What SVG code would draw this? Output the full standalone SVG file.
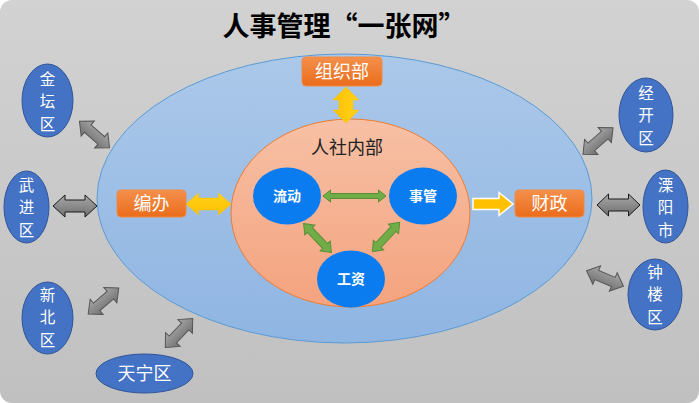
<svg xmlns="http://www.w3.org/2000/svg" width="699" height="403" viewBox="0 0 699 403">
<defs>
<linearGradient id="bg" x1="0" y1="0" x2="0" y2="1"><stop offset="0" stop-color="#d2d2d2"/><stop offset="1" stop-color="#c0c0c0"/></linearGradient>
<linearGradient id="blueBig" x1="0" y1="0" x2="0" y2="1"><stop offset="0" stop-color="#abc8e9"/><stop offset="1" stop-color="#8fb5e2"/></linearGradient>
<linearGradient id="salmon" x1="0" y1="0" x2="0" y2="1"><stop offset="0" stop-color="#f7c0a5"/><stop offset="1" stop-color="#f4a37e"/></linearGradient>
<linearGradient id="orange" x1="0" y1="0" x2="0" y2="1"><stop offset="0" stop-color="#f4904c"/><stop offset="1" stop-color="#ea6c1a"/></linearGradient>
<linearGradient id="grey" x1="0" y1="0" x2="0" y2="1"><stop offset="0" stop-color="#a8a8a8"/><stop offset="1" stop-color="#6f6f6f"/></linearGradient>
<linearGradient id="yellow" x1="0" y1="0" x2="0" y2="1"><stop offset="0" stop-color="#ffd21a"/><stop offset="1" stop-color="#ffc000"/></linearGradient>
</defs>
<style>
.dist{fill:#4472c4;stroke:#2f5597;stroke-width:1}
.dt{font-family:"Noto Sans CJK SC","Noto Sans",sans-serif;font-size:18px;fill:#ffffff;text-anchor:middle}
.vt{font-family:"Noto Sans CJK SC","Noto Sans",sans-serif;font-size:15.5px;fill:#ffffff;text-anchor:middle}
.box{fill:url(#orange);stroke:#f08a45;stroke-width:1}
.bt{font-family:"Noto Sans CJK SC","Noto Sans",sans-serif;font-size:18px;fill:#ffffff;text-anchor:middle}
.core{fill:#0a7cf0}
.ct{font-family:"Noto Sans CJK SC","Noto Sans",sans-serif;font-size:14px;font-weight:700;fill:#ffffff;text-anchor:middle}
.ga{fill:url(#grey);stroke:#555555;stroke-width:1}
.gk{fill:url(#grey);stroke:#1a1a1a;stroke-width:1}
.gr{fill:#70ad47;stroke:#5a8f38;stroke-width:1}
.ye{fill:url(#yellow);stroke:#ffc000;stroke-width:0.5}
</style>
<rect x="0" y="0" width="699" height="403" rx="12" fill="url(#bg)"/>
<text x="344" y="36" font-family="'Noto Sans CJK SC','Noto Sans',sans-serif" font-size="27" font-weight="700" fill="#000000" text-anchor="middle">人事管理“一张网”</text>

<g id="outer">
<ellipse cx="344.5" cy="198.5" rx="247.5" ry="144.5" fill="url(#blueBig)" stroke="#5b9bd5" stroke-width="1"/>
</g>
<g id="inner">
<ellipse cx="350.5" cy="213" rx="119.5" ry="94" fill="url(#salmon)" stroke="#ed7d31" stroke-width="1"/>
<text x="347" y="154" font-family="'Noto Sans CJK SC','Noto Sans',sans-serif" font-size="18" fill="#222222" text-anchor="middle">人社内部</text>
</g>

<g id="connectors">
<path class="ga" transform="translate(94.5,134.5) rotate(41.3)" d="M-20,0 L-9,-10 L-9,-5 L9,-5 L9,-10 L20,0 L9,10 L9,5 L-9,5 L-9,10 Z"/>
<path class="gk" transform="translate(75,206)" d="M-22,0 L-10,-11 L-10,-6 L10,-6 L10,-11 L22,0 L10,11 L10,6 L-10,6 L-10,11 Z"/>
<path class="ga" transform="translate(103.5,301) rotate(-40.3)" d="M-20,0 L-9,-10 L-9,-5 L9,-5 L9,-10 L20,0 L9,10 L9,5 L-9,5 L-9,10 Z"/>
<path class="ga" transform="translate(179,333) rotate(-46.8)" d="M-20,0 L-9,-10 L-9,-5 L9,-5 L9,-10 L20,0 L9,10 L9,5 L-9,5 L-9,10 Z"/>
<path class="ga" transform="translate(598,141) rotate(-41.2)" d="M-20,0 L-9,-10 L-9,-5 L9,-5 L9,-10 L20,0 L9,10 L9,5 L-9,5 L-9,10 Z"/>
<path class="gk" transform="translate(618.5,205)" d="M-21.5,0 L-10,-11 L-10,-6 L10,-6 L10,-11 L21.5,0 L10,11 L10,6 L-10,6 L-10,11 Z"/>
<path class="ga" transform="translate(605,278.5) rotate(23)" d="M-20,0 L-9,-10 L-9,-5 L9,-5 L9,-10 L20,0 L9,10 L9,5 L-9,5 L-9,10 Z"/>
<path class="ye" transform="translate(346,105) rotate(90)" d="M-18,0 L-5,-13 L-5,-7 L5,-7 L5,-13 L18,0 L5,13 L5,7 L-5,7 L-5,13 Z"/>
<path class="ye" transform="translate(208.5,204)" d="M-22.5,0 L-10,-11 L-10,-6 L10,-6 L10,-11 L22.5,0 L10,11 L10,6 L-10,6 L-10,11 Z"/>
<path fill="#ffc000" stroke="#ffffff" stroke-width="1.5" d="M473,198.5 L499,198.5 L499,192.5 L513,204 L499,215.5 L499,209.5 L473,209.5 Z"/>
<path class="gr" transform="translate(354.5,196)" d="M-31.5,0 L-24,-6 L-24,-2.5 L24,-2.5 L24,-6 L31.5,0 L24,6 L24,2.5 L-24,2.5 L-24,6 Z"/>
<path class="gr" transform="translate(317.5,238) rotate(46)" d="M-20,0 L-11,-7 L-11,-3.5 L11,-3.5 L11,-7 L20,0 L11,7 L11,3.5 L-11,3.5 L-11,7 Z"/>
<path class="gr" transform="translate(386,237) rotate(133)" d="M-20,0 L-11,-7 L-11,-3.5 L11,-3.5 L11,-7 L20,0 L11,7 L11,3.5 L-11,3.5 L-11,7 Z"/>
</g>

<g id="zuzhibu"><rect class="box" x="302" y="57" width="80" height="29" rx="4"/><text class="bt" x="342" y="78">组织部</text></g>
<g id="bianban"><rect class="box" x="117" y="190" width="69" height="27" rx="4"/><text class="bt" x="151.5" y="210">编办</text></g>
<g id="caizheng"><rect class="box" x="515" y="190" width="69" height="27" rx="4"/><text class="bt" x="549.5" y="210">财政</text></g>

<g id="liudong"><ellipse class="core" cx="287" cy="196" rx="34" ry="28.5"/><text class="ct" x="287" y="201">流动</text></g>
<g id="shiguan"><ellipse class="core" cx="423" cy="196" rx="34" ry="28.5"/><text class="ct" x="423" y="201">事管</text></g>
<g id="gongzi"><ellipse class="core" cx="351" cy="279" rx="34" ry="28.5"/><text class="ct" x="351" y="284">工资</text></g>

<g id="jintan"><ellipse class="dist" cx="47.5" cy="100.5" rx="25.5" ry="36.5"/><text class="vt" x="47.5" y="84.5">金</text><text class="vt" x="47.5" y="107">坛</text><text class="vt" x="47.5" y="129.5">区</text></g>
<g id="wujin"><ellipse class="dist" cx="26.5" cy="207" rx="22.5" ry="36"/><text class="vt" x="26.5" y="190.5">武</text><text class="vt" x="26.5" y="213">进</text><text class="vt" x="26.5" y="235.5">区</text></g>
<g id="xinbei"><ellipse class="dist" cx="47.5" cy="318" rx="25.5" ry="36"/><text class="vt" x="47.5" y="300.5">新</text><text class="vt" x="47.5" y="323">北</text><text class="vt" x="47.5" y="345.5">区</text></g>
<g id="tianning"><ellipse class="dist" cx="144.5" cy="373.5" rx="48.5" ry="19.5"/><text class="dt" x="144.5" y="380">天宁区</text></g>
<g id="jingkai"><ellipse class="dist" cx="646" cy="115" rx="27" ry="37"/><text class="vt" x="646" y="98.5">经</text><text class="vt" x="646" y="121">开</text><text class="vt" x="646" y="143.5">区</text></g>
<g id="liyang"><ellipse class="dist" cx="665.5" cy="206.5" rx="22.5" ry="36.5"/><text class="vt" x="665.5" y="190.5">溧</text><text class="vt" x="665.5" y="213">阳</text><text class="vt" x="665.5" y="235.5">市</text></g>
<g id="zhonglou"><ellipse class="dist" cx="655" cy="294.5" rx="27" ry="35.5"/><text class="vt" x="655" y="277.5">钟</text><text class="vt" x="655" y="300">楼</text><text class="vt" x="655" y="322.5">区</text></g>
</svg>
